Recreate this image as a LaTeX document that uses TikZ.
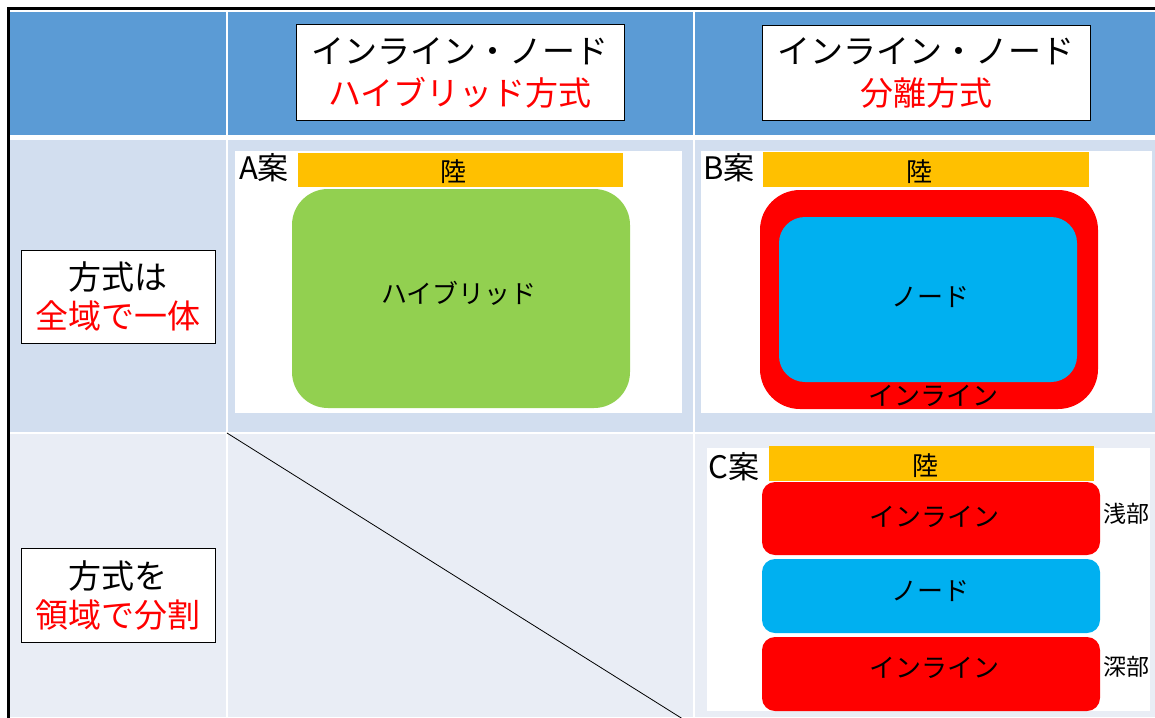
\documentclass[tikz,border=0pt]{standalone}
\usepackage{fontspec}
\setmainfont{Noto Sans CJK JP}
\definecolor{hdrblue}{HTML}{5B9BD5}
\definecolor{rowone}{HTML}{D2DEEF}
\definecolor{rowtwo}{HTML}{E9EDF5}
\definecolor{landc}{HTML}{FFC000}
\definecolor{hybridc}{HTML}{92D050}
\definecolor{nodec}{HTML}{00B0F0}
\definecolor{inlinec}{HTML}{FF0000}
\begin{document}
\begin{tikzpicture}[x=1pt,y=-1pt,
  titlebox/.style={draw=black, line width=1pt, fill=white, inner sep=0pt, align=center,
     font=\fontsize{33}{42}\selectfont},
  panel/.style={fill=white, draw=none},
  land/.style={fill=landc, draw=none, inner sep=0pt},
  lbl/.style={inner sep=0pt, font=\fontsize{26}{30}\selectfont},
  casel/.style={inner sep=0pt, font=\fontsize{31}{34}\selectfont},
  sidel/.style={inner sep=0pt, font=\fontsize{23}{26}\selectfont},
  blob/.style={draw=none, inner sep=0pt}]
\useasboundingbox (0,0) rectangle (1155,717);
\clip (0,0) rectangle (1155,717);
\fill[white] (0,0) rectangle (1155,717);
% cell backgrounds
\fill[hdrblue] (10,12) rectangle (226,135);
\fill[hdrblue] (228,12) rectangle (693,135);
\fill[hdrblue] (695,12) rectangle (1155,135);
\fill[rowone] (10,140) rectangle (226,432);
\fill[rowone] (228,140) rectangle (693,432);
\fill[rowone] (695,140) rectangle (1155,432);
\fill[rowtwo] (10,434) rectangle (226,717);
\fill[rowtwo] (228,434) rectangle (693,717);
\fill[rowtwo] (695,434) rectangle (1155,717);
% outer border
\draw[line width=2.5pt] (8.5,740) -- (8.5,8.5) -- (1160,8.5);
% diagonal
\coordinate (dstart) at (227,433);
\coordinate (dend) at (694,726);
\draw[line width=0.8pt] (dstart) -- (dend);
% header boxes
\node[titlebox, minimum width=328, minimum height=95] (hA) at (460,72.5)
  {インライン・ノード\\\textcolor{inlinec}{ハイブリッド方式}};
\node[titlebox, minimum width=328, minimum height=94] (hB) at (926,73)
  {インライン・ノード\\\textcolor{inlinec}{分離方式}};
% row boxes
\node[titlebox, minimum width=194, minimum height=93, font=\fontsize{33}{39}\selectfont] (r1) at (118,296.5)
  {方式は\\\textcolor{inlinec}{全域で一体}};
\node[titlebox, minimum width=194, minimum height=94, font=\fontsize{33}{39}\selectfont] (r2) at (118,595)
  {方式を\\\textcolor{inlinec}{領域で分割}};
% panel A
\fill[panel] (235,151) rectangle (682,413);
\node[land, minimum width=325, minimum height=34] (landA) at (460.5,170) {};
\node[lbl] (landAt) at (453,172) {陸};
\node[casel] (caseA) at (264,168) {A案};
\node[blob, fill=hybridc, rounded corners=36pt, minimum width=338, minimum height=219] (hyb) at (461,298.5) {};
\node[lbl] (hybt) at (459,293) {ハイブリッド};
% panel B
\fill[panel] (701,151) rectangle (1152,413);
\node[land, minimum width=326, minimum height=35] (landB) at (926,169.5) {};
\node[lbl] (landBt) at (919,172) {陸};
\node[casel] (caseB) at (729,168) {B案};
\node[blob, fill=inlinec, rounded corners=40pt, minimum width=338, minimum height=219] (inlB) at (929,299.5) {};
\node[blob, fill=nodec, rounded corners=26pt, minimum width=298, minimum height=165] (nodeB) at (928,299.5) {};
\node[lbl] (nodeBt) at (930,297) {ノード};
\node[lbl] (inlBt) at (933,396) {インライン};
% panel C
\fill[panel] (707,448) rectangle (1150,711);
\node[land, minimum width=325, minimum height=35] (landC) at (931.5,463.5) {};
\node[lbl] (landCt) at (925,466) {陸};
\node[casel] (caseC) at (734,467) {C案};
\node[blob, fill=inlinec, rounded corners=13pt, minimum width=338, minimum height=73] (inlC1) at (931,518.5) {};
\node[lbl] (inlC1t) at (934,517) {インライン};
\node[blob, fill=nodec, rounded corners=13pt, minimum width=338, minimum height=74] (nodeC) at (931,596) {};
\node[lbl] (nodeCt) at (930,591) {ノード};
\node[blob, fill=inlinec, rounded corners=13pt, minimum width=338, minimum height=74] (inlC2) at (931,674) {};
\node[lbl] (inlC2t) at (934,668) {インライン};
\node[sidel] (shallow) at (1126,514) {浅部};
\node[sidel] (deep) at (1126,667) {深部};
\end{tikzpicture}
\end{document}
